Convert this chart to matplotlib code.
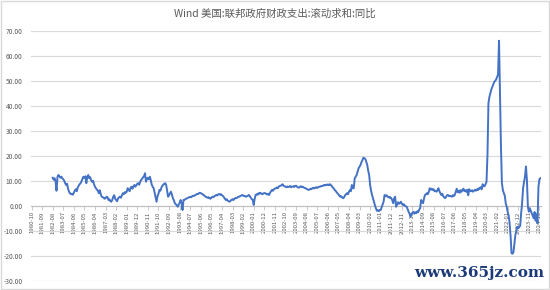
import numpy as np
import pandas as pd
import matplotlib
matplotlib.use("Agg")
import matplotlib.pyplot as plt
from matplotlib.patches import Rectangle

title = "Wind 美国:联邦政府财政支出:滚动求和:同比"
axis_start = "1980-10"
data_start = "1982-08"

# monthly values, 1982-08 .. 1989-12
vals_1980s = [
    11.2, 10.4, 11.0, 9.8, 6.0,
    11.5, 12.3, 11.8, 11.2, 11.6, 11.0, 10.6, 10.0, 9.0, 8.3, 8.8, 6.8,
    5.6, 5.0, 4.6, 4.7, 4.4, 5.2, 6.0, 6.6, 5.8, 7.2, 8.0, 8.6,
    9.0, 9.8, 10.8, 11.6, 11.2, 11.8, 9.0, 11.5, 12.3, 11.0, 11.4, 10.2,
    9.6, 10.0, 8.6, 7.6, 7.0, 6.4, 6.0, 5.0, 6.2, 4.6, 3.6, 3.4,
    3.2, 2.8, 3.0, 3.6, 3.4, 2.3, 2.6, 1.8, 1.6, 2.4, 3.6, 4.2,
    2.8, 2.3, 1.8, 2.9, 3.4, 3.6, 3.2, 4.2, 5.0, 4.6, 5.4, 5.2,
    5.6, 7.0, 6.4, 5.8, 7.2, 7.6, 6.8, 7.8, 8.3, 7.6, 8.2, 8.8,
]
vals_1990s = [
    9.0, 8.4, 9.6, 10.3, 10.8, 11.4, 11.8, 13.0, 9.6, 10.8, 11.2, 10.6,
    11.6, 10.2, 8.4, 7.6, 7.0, 5.2, 3.4, 1.6, 3.8, 4.8, 6.3, 6.0,
    7.2, 8.0, 8.4, 8.8, 9.0, 8.3, 6.0, 3.6, 4.2, 5.0, 5.6, 4.4,
    3.0, 2.2, 1.0, 0.6, 0.2, -0.4, 0.4, 1.2, 2.3, 1.0, -1.7, 2.3,
    2.4, 2.6, 2.9, 3.0, 3.2, 3.4, 3.6, 3.4, 3.8, 4.0, 3.9, 4.2,
    4.4, 4.7, 4.6, 5.0, 5.2, 5.0, 4.8, 4.6, 4.2, 4.0, 3.6, 3.4,
    3.2, 3.4, 3.0, 2.8, 3.2, 3.6, 3.4, 3.8, 4.0, 4.3, 4.1, 4.5,
    4.7, 4.4, 4.6, 4.2, 3.9, 3.4, 2.8, 2.3, 2.6, 2.0, 1.8, 1.6,
    2.0, 2.4, 2.6, 2.3, 2.8, 3.1, 3.0, 3.3, 3.6, 3.6, 3.9, 4.0,
    4.3, 4.1, 3.8, 3.9, 3.6, 3.8, 4.0, 4.3, 3.8, 3.2, 2.6, 2.3,
]
vals_2000s = [
    0.3, 2.8, 4.3, 4.6, 4.4, 5.0, 4.8, 5.2, 4.8, 4.6, 4.9, 5.1,
    5.0, 4.7, 4.5, 4.8, 4.3, 5.2, 5.8, 6.3, 6.0, 6.6, 6.8, 7.0,
    7.3, 7.0, 7.6, 7.9, 8.0, 8.2, 8.6, 8.0, 7.8, 7.6, 7.4, 7.7,
    7.5, 7.6, 7.9, 7.4, 7.6, 7.8, 7.5, 7.9, 8.0, 7.6, 7.4, 7.2,
    7.5, 7.8, 7.4, 7.6, 7.3, 7.1, 7.0, 6.7, 6.5, 6.3, 6.5, 6.8,
    6.6, 7.0, 7.2, 6.9, 7.2, 7.4, 7.1, 7.4, 7.6, 7.6, 7.9, 7.8,
    8.0, 8.3, 8.1, 8.4, 8.3, 8.5, 8.2, 8.6, 8.4, 7.9, 7.4, 7.0,
    6.4, 6.0, 5.5, 5.0, 4.6, 4.0, 3.6, 3.8, 3.3, 3.0, 3.4, 4.2,
    4.6, 5.0, 4.6, 5.6, 6.3, 5.8, 8.3, 7.0, 7.0, 11.0, 11.6, 12.3,
    13.6, 15.0, 15.6, 16.3, 17.4, 18.3, 19.2, 19.0, 18.7, 17.6, 16.3, 14.0,
]
vals_2010s = [
    12.3, 8.3, 6.0, 4.3, 3.0, 1.6, 0.2, -1.0, -2.0, -1.8, -2.2, -1.7,
    -1.7, -0.6, 0.4, 1.6, 4.3, 3.8, 4.2, 3.6, 3.6, 3.2, 3.4, 3.0,
    2.2, 1.0, 3.0, 3.6, -0.4, 0.4, 1.4, 0.8, 1.0, 1.6, 0.8, 0.3,
    0.6, 0.0, -0.2, -0.4, -1.4, -2.4, -3.2, -4.4, -3.4, -2.8, -2.4, -3.2,
    -2.6, -3.0, -2.2, -2.6, -1.6, -1.0, 2.3, 1.6, 1.0, 2.8, 4.3, 4.6,
    5.0, 4.6, 5.6, 7.0, 6.4, 6.8, 6.3, 6.6, 5.8, 6.0, 5.6, 6.2,
    7.0, 5.8, 5.0, 4.3, 4.8, 3.8, 3.4, 3.0, 3.6, 4.2, 4.3, 3.8,
    4.0, 3.8, 3.6, 4.2, 3.9, 4.3, 5.6, 6.8, 5.4, 6.0, 5.2, 6.2,
    5.6, 6.4, 6.8, 5.8, 6.2, 5.6, 6.4, 4.2, 6.6, 6.0, 5.8, 6.2,
    5.6, 6.0, 6.4, 6.0, 6.6, 6.2, 7.0, 6.8, 7.4, 6.6, 8.6, 7.8,
]
vals_2020s = [
    7.8, 8.6, 9.6, 20.5, 41.0, 43.5, 45.0, 46.5, 47.5, 48.5, 49.5, 50.0,
    50.5, 51.5, 52.5, 66.0, 44.0, 24.0, 9.0, 6.3, 5.0, 4.0, 0.9, -0.4,
    -2.5, -4.0, -7.0, -12.0, -19.0, -19.2, -18.6, -15.0, -11.7, -10.0, -8.4, -9.0,
    -8.6, -8.0, -3.0, 1.0, 7.0, 9.5, 11.7, 15.7, 10.3, -0.4, -2.4, -1.0,
    -2.0, -3.0, -4.0, -5.0, -2.5, -6.0, -3.5, -7.0, 7.6, 10.6, 11.0,
]

values = vals_1980s + vals_1990s + vals_2000s + vals_2010s + vals_2020s
lead = len(pd.period_range(axis_start, data_start, freq="M")) - 1
periods = pd.period_range(axis_start, periods=lead + len(values), freq="M")
series = np.array([np.nan] * lead + values)
labels = [p.strftime("%Y-%m") for p in periods]
n = len(series)

plt.rcParams["font.family"] = ["Noto Sans CJK SC", "DejaVu Sans"]
grey = "#595959"
grid = "#d9d9d9"

fig = plt.figure(figsize=(5.5, 2.9), dpi=100)
fig.patches.append(Rectangle((0.001, 0.002), 0.997, 0.995, transform=fig.transFigure,
                             fill=False, edgecolor=grid, linewidth=1.0))
ax = fig.add_axes([0.0564, 0.032, 0.927, 0.862])

# spine position first: it resets the ticks
for s in ["top", "right", "left"]:
    ax.spines[s].set_visible(False)
ax.spines["bottom"].set_position(("data", 0))
ax.spines["bottom"].set_color("#bfbfbf")
ax.spines["bottom"].set_linewidth(0.8)

ax.plot(np.arange(n), series, color="#4472C4", linewidth=1.4, zorder=3)

ax.set_ylim(-30, 70)
ax.set_yticks(np.arange(-30, 71, 10))
ax.set_yticklabels([f"{v:.2f}" for v in np.arange(-30, 71, 10)])
ax.yaxis.grid(True, color=grid, linewidth=0.8)
ax.set_axisbelow(True)
ax.set_xlim(-0.5, n - 0.5)

ticks = np.arange(0, n, 11)
ax.set_xticks(ticks)
ax.set_xticklabels([labels[i] for i in ticks])
plt.setp(ax.get_xticklabels(), rotation=90, fontsize=4.3, color=grey, va="top", ha="center")
ax.tick_params(axis="x", length=3, width=0.6, color="#bfbfbf", pad=1)
ax.tick_params(axis="y", length=0, labelsize=4.8, labelcolor=grey, pad=6)

fig.text(0.5, 0.952, title, ha="center", va="center", fontsize=7.5, color=grey)
fig.text(0.99, 0.06, "www.365jz.com", ha="right", va="center", fontsize=11,
         color="#1b3a78", family="DejaVu Serif", fontweight="bold")

fig.savefig("out.png", dpi=100)
